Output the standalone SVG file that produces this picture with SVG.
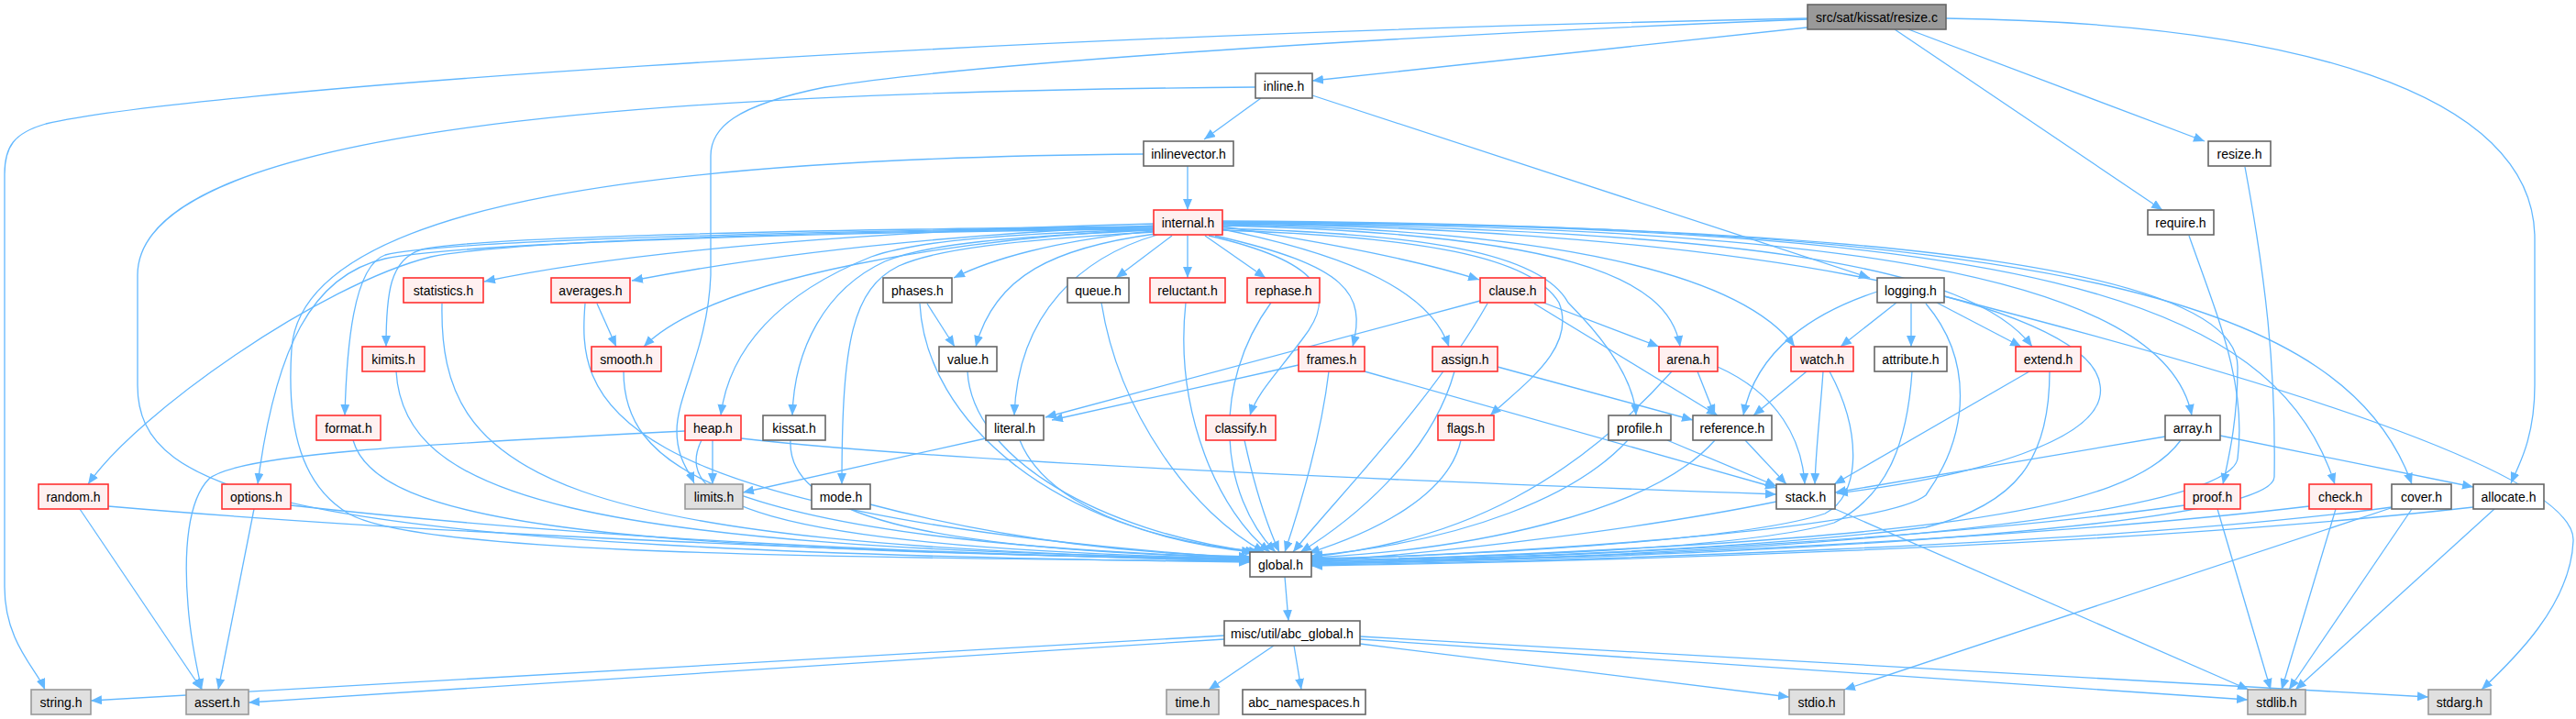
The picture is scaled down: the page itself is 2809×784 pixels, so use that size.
<svg xmlns="http://www.w3.org/2000/svg" width="2809" height="784" viewBox="0 0 2809 784">
<style>
.bg{fill:#ffffff}
.e{fill:none;stroke:#63b8ff;stroke-width:1.3;marker-end:url(#a)}
.n rect{fill:#ffffff;stroke:#666666;stroke-width:1.6}
.r rect{fill:#fff0f0;stroke:#ff3030;stroke-width:1.6}
.s rect{fill:#e0e0e0;stroke:#999999;stroke-width:1.6}
.root rect{fill:#999999;stroke:#666666;stroke-width:1.6}
text{font-family:"Liberation Sans",Arial,sans-serif;font-size:14px;fill:#000000;text-anchor:middle}
</style>
<defs>
<marker id="a" viewBox="0 0 12 10" refX="12" refY="5" markerWidth="12" markerHeight="10" markerUnits="userSpaceOnUse" orient="auto">
<path d="M0,0 L12,5 L0,10 z" fill="#63b8ff"/>
</marker>
</defs>
<rect class="bg" x="0" y="0" width="2809" height="784"/>
<g id="edges">
<path class="e" d="M1989,28 L1431,88"/>
<path class="e" d="M2081,32 L2404,154"/>
<path class="e" d="M2066,32 L2358,229"/>
<path class="e" d="M1971,20 C1000,40 200,100 50,135 C15,145 5,160 5,190 L5,640 C5,700 40,730 49,752"/>
<path class="e" d="M1971,21 C1500,40 1050,70 900,95 C800,115 775,140 775,170 L775,300 C772,380 738,430 738,470 C738,500 752,515 757,527"/>
<path class="e" d="M2122,20 C2500,25 2764,100 2764,260 L2764,420 C2764,480 2745,510 2738,527"/>
<path class="e" d="M1375,107 L1313,152"/>
<path class="e" d="M1431,104 L2039,303"/>
<path class="e" d="M1369,95 C700,100 150,140 150,300 L150,420 C150,540 300,600 1363,613"/>
<path class="e" d="M1295,181 L1295,229"/>
<path class="e" d="M1247,168 C750,172 330,215 318,380 C312,470 330,530 380,560 C450,600 800,608 1363,612"/>
<path class="e" d="M1258,244 C1000,250 700,270 528,307"/>
<path class="e" d="M1258,246 C1050,255 850,275 689,306"/>
<path class="e" d="M1258,250 C1050,260 780,300 702,378"/>
<path class="e" d="M1258,247 C900,250 520,258 460,272 C425,282 421,320 421,378"/>
<path class="e" d="M1258,248 C900,251 480,262 420,278 C385,290 378,380 376,453"/>
<path class="e" d="M1258,249 C900,252 560,262 470,280 C350,310 150,450 96,528"/>
<path class="e" d="M1258,250 C900,253 500,265 420,282 C340,300 300,380 281,528"/>
<path class="e" d="M1258,250 C1100,255 1000,262 950,280 C850,320 795,380 786,453"/>
<path class="e" d="M1258,251 C1100,258 1010,266 965,285 C900,315 866,380 864,453"/>
<path class="e" d="M1258,253 C1100,262 1020,272 980,290 C930,315 918,370 918,528"/>
<path class="e" d="M1258,252 C1150,262 1080,283 1040,303"/>
<path class="e" d="M1260,255 C1150,270 1085,300 1064,378"/>
<path class="e" d="M1262,256 C1180,280 1110,340 1106,453"/>
<path class="e" d="M1278,257 L1217,303"/>
<path class="e" d="M1295,257 L1295,303"/>
<path class="e" d="M1314,257 L1380,303"/>
<path class="e" d="M1318,257 C1440,285 1460,320 1420,370 C1390,410 1370,430 1363,453"/>
<path class="e" d="M1325,257 C1470,290 1490,320 1475,378"/>
<path class="e" d="M1333,247 C1450,265 1550,285 1613,305"/>
<path class="e" d="M1333,250 C1480,280 1560,320 1580,378"/>
<path class="e" d="M1333,251 C1550,258 1670,280 1700,330 C1720,380 1660,420 1625,453"/>
<path class="e" d="M1333,249 C1550,255 1680,275 1710,330 C1760,380 1782,420 1784,453"/>
<path class="e" d="M1333,246 C1700,255 1820,300 1832,378"/>
<path class="e" d="M1333,245 C1700,250 1900,300 1957,378"/>
<path class="e" d="M1333,244 C1900,250 2280,330 2290,420 C2300,480 2150,520 2003,538"/>
<path class="e" d="M1333,243 C1900,250 2150,290 2216,378"/>
<path class="e" d="M1333,243 C2000,245 2360,300 2390,453"/>
<path class="e" d="M1333,242 C2100,245 2440,300 2440,400 C2440,460 2430,500 2424,528"/>
<path class="e" d="M1333,242 C2200,245 2480,320 2546,528"/>
<path class="e" d="M1333,241 C2250,245 2560,330 2630,528"/>
<path class="e" d="M651,331 L672,378"/>
<path class="e" d="M1011,331 L1041,378"/>
<path class="e" d="M1416,398 L1147,458"/>
<path class="e" d="M1488,405 L1937,532"/>
<path class="e" d="M1614,328 L1140,455"/>
<path class="e" d="M1683,330 L1809,378"/>
<path class="e" d="M1673,331 L1873,453"/>
<path class="e" d="M1633,400 L1846,458"/>
<path class="e" d="M1851,405 L1870,453"/>
<path class="e" d="M1873,400 C1940,430 1965,480 1968,528"/>
<path class="e" d="M1970,405 L1912,453"/>
<path class="e" d="M1988,405 C1985,450 1980,490 1979,528"/>
<path class="e" d="M2068,330 L2007,378"/>
<path class="e" d="M2084,331 L2084,378"/>
<path class="e" d="M2112,330 L2204,378"/>
<path class="e" d="M2047,318 C1980,340 1915,380 1901,453"/>
<path class="e" d="M2120,323 C2500,420 2810,520 2806,590 C2803,660 2740,720 2706,752"/>
<path class="e" d="M2213,405 L2000,528"/>
<path class="e" d="M2361,476 L2001,537"/>
<path class="e" d="M2421,475 L2697,531"/>
<path class="e" d="M808,478 C1000,500 1400,520 1937,539"/>
<path class="e" d="M777,480 L777,528"/>
<path class="e" d="M747,470 C450,485 260,495 228,522 C205,545 200,600 205,660 C208,700 215,730 220,752"/>
<path class="e" d="M1075,478 L810,537"/>
<path class="e" d="M1818,480 L1937,530"/>
<path class="e" d="M1903,480 L1948,528"/>
<path class="e" d="M2001,555 L2452,752"/>
<path class="e" d="M2418,555 L2476,752"/>
<path class="e" d="M2547,555 L2488,752"/>
<path class="e" d="M2630,555 L2496,752"/>
<path class="e" d="M2610,553 L2011,752"/>
<path class="e" d="M2720,555 L2503,752"/>
<path class="e" d="M87,555 L220,752"/>
<path class="e" d="M277,555 L238,752"/>
<path class="e" d="M118,552 C500,585 1000,603 1363,612"/>
<path class="e" d="M317,551 C650,588 1000,604 1363,611"/>
<path class="e" d="M482,331 C478,520 600,595 1363,610"/>
<path class="e" d="M432,405 C440,540 620,598 1363,609"/>
<path class="e" d="M385,480 C410,570 650,600 1363,610"/>
<path class="e" d="M638,331 C630,430 640,560 1363,609"/>
<path class="e" d="M680,405 C680,500 760,590 1363,608"/>
<path class="e" d="M765,480 C735,540 800,598 1363,609"/>
<path class="e" d="M862,480 C858,560 1000,600 1363,608"/>
<path class="e" d="M949,550 C1100,590 1250,605 1363,607"/>
<path class="e" d="M1003,331 C1010,460 1150,580 1366,602"/>
<path class="e" d="M1055,405 C1060,500 1200,580 1370,602"/>
<path class="e" d="M1112,480 C1140,550 1250,590 1374,602"/>
<path class="e" d="M1201,330 C1220,450 1300,560 1379,602"/>
<path class="e" d="M1293,330 C1280,450 1330,560 1385,602"/>
<path class="e" d="M1386,330 C1320,420 1330,540 1391,602"/>
<path class="e" d="M1357,480 C1370,540 1385,580 1395,602"/>
<path class="e" d="M1449,405 C1440,480 1415,560 1401,602"/>
<path class="e" d="M1622,331 C1560,440 1460,540 1410,602"/>
<path class="e" d="M1586,405 C1560,500 1470,570 1418,602"/>
<path class="e" d="M1593,480 C1580,540 1500,580 1427,603"/>
<path class="e" d="M1775,480 C1720,540 1600,590 1430,606"/>
<path class="e" d="M1823,405 C1720,520 1600,590 1430,607"/>
<path class="e" d="M1870,480 C1800,560 1600,600 1430,608"/>
<path class="e" d="M1995,405 C2030,470 2030,540 1990,560 C1900,590 1600,606 1430,609"/>
<path class="e" d="M2100,331 C2150,390 2150,470 2100,540 C2050,580 1600,606 1430,610"/>
<path class="e" d="M2085,405 C2080,480 2060,540 2000,570 C1900,600 1600,608 1430,611"/>
<path class="e" d="M2235,405 C2235,500 2200,550 2100,575 C1900,600 1600,610 1430,612"/>
<path class="e" d="M2378,480 C2320,560 2100,590 1430,613"/>
<path class="e" d="M1937,547 C1800,575 1600,600 1430,613"/>
<path class="e" d="M2382,551 C2100,590 1700,608 1430,614"/>
<path class="e" d="M2518,552 C2200,590 1700,610 1430,615"/>
<path class="e" d="M2608,553 C2300,595 1700,612 1430,616"/>
<path class="e" d="M2697,553 C2300,598 1700,613 1430,617"/>
<path class="e" d="M2448,182 C2470,300 2482,400 2480,520 C2478,570 2000,605 1430,615"/>
<path class="e" d="M2387,257 C2420,350 2450,420 2440,500 C2430,560 2000,605 1430,614"/>
<path class="e" d="M1401,629 L1405,677"/>
<path class="e" d="M1335,693 L99,764"/>
<path class="e" d="M1335,697 L271,766"/>
<path class="e" d="M1389,704 L1318,752"/>
<path class="e" d="M1411,704 L1419,752"/>
<path class="e" d="M1483,702 L1951,760"/>
<path class="e" d="M1483,697 L2451,763"/>
<path class="e" d="M1483,694 L2648,760"/>
</g>
<g id="node-resize_c" class="root"><rect x="1971" y="5" width="151" height="27"/><text x="2046.5" y="23.5">src/sat/kissat/resize.c</text></g>
<g id="node-inline_h" class="n"><rect x="1369" y="80" width="62" height="27"/><text x="1400" y="98.5">inline.h</text></g>
<g id="node-inlinevector_h" class="n"><rect x="1247" y="154" width="98" height="27"/><text x="1296" y="172.5">inlinevector.h</text></g>
<g id="node-internal_h" class="r"><rect x="1258" y="229" width="75" height="27"/><text x="1295.5" y="247.5">internal.h</text></g>
<g id="node-resize_h" class="n"><rect x="2408" y="154" width="68" height="27"/><text x="2442" y="172.5">resize.h</text></g>
<g id="node-require_h" class="n"><rect x="2342" y="229" width="72" height="27"/><text x="2378" y="247.5">require.h</text></g>
<g id="node-statistics_h" class="r"><rect x="440" y="303" width="87" height="27"/><text x="483.5" y="321.5">statistics.h</text></g>
<g id="node-averages_h" class="r"><rect x="601" y="303" width="86" height="27"/><text x="644" y="321.5">averages.h</text></g>
<g id="node-phases_h" class="n"><rect x="963" y="303" width="75" height="27"/><text x="1000.5" y="321.5">phases.h</text></g>
<g id="node-queue_h" class="n"><rect x="1164" y="303" width="67" height="27"/><text x="1197.5" y="321.5">queue.h</text></g>
<g id="node-reluctant_h" class="r"><rect x="1254" y="303" width="82" height="27"/><text x="1295" y="321.5">reluctant.h</text></g>
<g id="node-rephase_h" class="r"><rect x="1360" y="303" width="79" height="27"/><text x="1399.5" y="321.5">rephase.h</text></g>
<g id="node-clause_h" class="r"><rect x="1614" y="303" width="71" height="27"/><text x="1649.5" y="321.5">clause.h</text></g>
<g id="node-logging_h" class="n"><rect x="2047" y="303" width="73" height="27"/><text x="2083.5" y="321.5">logging.h</text></g>
<g id="node-kimits_h" class="r"><rect x="395" y="378" width="68" height="27"/><text x="429" y="396.5">kimits.h</text></g>
<g id="node-smooth_h" class="r"><rect x="645" y="378" width="76" height="27"/><text x="683" y="396.5">smooth.h</text></g>
<g id="node-value_h" class="n"><rect x="1024" y="378" width="63" height="27"/><text x="1055.5" y="396.5">value.h</text></g>
<g id="node-frames_h" class="r"><rect x="1416" y="378" width="72" height="27"/><text x="1452" y="396.5">frames.h</text></g>
<g id="node-assign_h" class="r"><rect x="1562" y="378" width="71" height="27"/><text x="1597.5" y="396.5">assign.h</text></g>
<g id="node-arena_h" class="r"><rect x="1809" y="378" width="64" height="27"/><text x="1841" y="396.5">arena.h</text></g>
<g id="node-watch_h" class="r"><rect x="1953" y="378" width="68" height="27"/><text x="1987" y="396.5">watch.h</text></g>
<g id="node-attribute_h" class="n"><rect x="2044" y="378" width="79" height="27"/><text x="2083.5" y="396.5">attribute.h</text></g>
<g id="node-extend_h" class="r"><rect x="2198" y="378" width="71" height="27"/><text x="2233.5" y="396.5">extend.h</text></g>
<g id="node-format_h" class="r"><rect x="345" y="453" width="70" height="27"/><text x="380" y="471.5">format.h</text></g>
<g id="node-heap_h" class="r"><rect x="747" y="453" width="61" height="27"/><text x="777.5" y="471.5">heap.h</text></g>
<g id="node-kissat_h" class="n"><rect x="832" y="453" width="68" height="27"/><text x="866" y="471.5">kissat.h</text></g>
<g id="node-literal_h" class="n"><rect x="1075" y="453" width="63" height="27"/><text x="1106.5" y="471.5">literal.h</text></g>
<g id="node-classify_h" class="r"><rect x="1315" y="453" width="76" height="27"/><text x="1353" y="471.5">classify.h</text></g>
<g id="node-flags_h" class="r"><rect x="1568" y="453" width="61" height="27"/><text x="1598.5" y="471.5">flags.h</text></g>
<g id="node-profile_h" class="n"><rect x="1754" y="453" width="68" height="27"/><text x="1788" y="471.5">profile.h</text></g>
<g id="node-reference_h" class="n"><rect x="1846" y="453" width="86" height="27"/><text x="1889" y="471.5">reference.h</text></g>
<g id="node-array_h" class="n"><rect x="2361" y="453" width="60" height="27"/><text x="2391" y="471.5">array.h</text></g>
<g id="node-random_h" class="r"><rect x="42" y="528" width="76" height="27"/><text x="80" y="546.5">random.h</text></g>
<g id="node-options_h" class="r"><rect x="242" y="528" width="75" height="27"/><text x="279.5" y="546.5">options.h</text></g>
<g id="node-limits_h" class="s"><rect x="747" y="528" width="63" height="27"/><text x="778.5" y="546.5">limits.h</text></g>
<g id="node-mode_h" class="n"><rect x="885" y="528" width="64" height="27"/><text x="917" y="546.5">mode.h</text></g>
<g id="node-stack_h" class="n"><rect x="1937" y="528" width="64" height="27"/><text x="1969" y="546.5">stack.h</text></g>
<g id="node-proof_h" class="r"><rect x="2382" y="528" width="61" height="27"/><text x="2412.5" y="546.5">proof.h</text></g>
<g id="node-check_h" class="r"><rect x="2518" y="528" width="68" height="27"/><text x="2552" y="546.5">check.h</text></g>
<g id="node-cover_h" class="n"><rect x="2608" y="528" width="65" height="27"/><text x="2640.5" y="546.5">cover.h</text></g>
<g id="node-allocate_h" class="n"><rect x="2697" y="528" width="77" height="27"/><text x="2735.5" y="546.5">allocate.h</text></g>
<g id="node-global_h" class="n"><rect x="1363" y="602" width="67" height="27"/><text x="1396.5" y="620.5">global.h</text></g>
<g id="node-abc_global_h" class="n"><rect x="1335" y="677" width="148" height="27"/><text x="1409" y="695.5">misc/util/abc_global.h</text></g>
<g id="node-string_h" class="s"><rect x="34" y="752" width="65" height="27"/><text x="66.5" y="770.5">string.h</text></g>
<g id="node-assert_h" class="s"><rect x="203" y="752" width="68" height="27"/><text x="237" y="770.5">assert.h</text></g>
<g id="node-time_h" class="s"><rect x="1272" y="752" width="57" height="27"/><text x="1300.5" y="770.5">time.h</text></g>
<g id="node-abc_namespaces_h" class="n"><rect x="1355" y="752" width="134" height="27"/><text x="1422" y="770.5">abc_namespaces.h</text></g>
<g id="node-stdio_h" class="s"><rect x="1951" y="752" width="60" height="27"/><text x="1981" y="770.5">stdio.h</text></g>
<g id="node-stdlib_h" class="s"><rect x="2451" y="752" width="63" height="27"/><text x="2482.5" y="770.5">stdlib.h</text></g>
<g id="node-stdarg_h" class="s"><rect x="2648" y="752" width="68" height="27"/><text x="2682" y="770.5">stdarg.h</text></g>
</svg>
